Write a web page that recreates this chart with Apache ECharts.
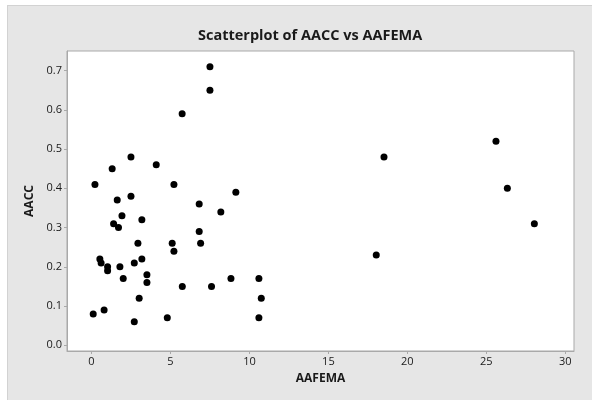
<!DOCTYPE html>
<html>
<head>
<meta charset="utf-8">
<script src="https://cdn.jsdelivr.net/npm/echarts@6/dist/echarts.min.js"></script>
<style>
  html, body { margin: 0; padding: 0; background: #ffffff; }
  #wrap { position: relative; width: 592px; height: 400px; overflow: hidden; }
  #panel { position: absolute; left: 7px; top: 5px; width: 590px; height: 400px;
           background: #e6e6e6; border-top: 1px solid #d2d2d2; border-left: 1px solid #d2d2d2; }
  #chart { position: absolute; left: 0; top: 0; width: 592px; height: 400px; }
</style>
</head>
<body>
<div id="wrap">
  <div id="panel"></div>
  <div id="chart"></div>
</div>
<script>
// AAFEMA (x) and AACC (y) observations
const aafema = [0.22, 0.11, 0.53, 0.61, 0.80, 1.02, 1.02, 1.31, 1.40, 1.63,
                1.71, 1.80, 1.93, 2.01, 2.50, 2.50, 2.71, 2.71, 2.94, 3.02,
                3.19, 3.19, 3.51, 3.51, 4.10, 4.80, 5.11, 5.22, 5.22, 5.74,
                5.75, 6.82, 6.82, 6.91, 7.50, 7.50, 7.60, 8.19, 8.83, 9.14,
                10.60, 10.75, 10.60, 18.03, 18.52, 25.61, 26.33, 28.04];
const aacc   = [0.41, 0.08, 0.22, 0.21, 0.09, 0.20, 0.19, 0.45, 0.31, 0.37,
                0.30, 0.20, 0.33, 0.17, 0.48, 0.38, 0.21, 0.06, 0.26, 0.12,
                0.32, 0.22, 0.18, 0.16, 0.46, 0.07, 0.26, 0.24, 0.41, 0.59,
                0.15, 0.36, 0.29, 0.26, 0.71, 0.65, 0.15, 0.34, 0.17, 0.39,
                0.17, 0.12, 0.07, 0.23, 0.48, 0.52, 0.40, 0.31];

// Tick positions
const xTicks = [0, 5, 10, 15, 20, 25, 30];
const yTicks = [0.0, 0.1, 0.2, 0.3, 0.4, 0.5, 0.6, 0.7];

const points = aafema.map((x, i) => [x, aacc[i]]);

const FONT = '"Open Sans", "Noto Sans", sans-serif';
const axisGray = '#a9a9a9';

const chart = echarts.init(document.getElementById('chart'), null, { renderer: 'canvas' });
chart.setOption({
  backgroundColor: 'transparent',
  animation: false,
  title: {
    text: 'Scatterplot of AACC vs AAFEMA',
    left: 193,
    top: 23,
    textStyle: { fontFamily: FONT, fontSize: 14.5, fontWeight: 'bold', color: '#1a1a1a' }
  },
  grid: {
    left: 67, top: 51, right: 18, bottom: 49,
    show: true, backgroundColor: '#ffffff', borderColor: axisGray, borderWidth: 1
  },
  xAxis: {
    type: 'value',
    min: -1.55, max: 30.55,
    name: 'AAFEMA',
    nameLocation: 'middle',
    nameGap: 22,
    nameTextStyle: { fontFamily: FONT, fontSize: 12, fontWeight: 'bold', color: '#1a1a1a' },
    splitLine: { show: false },
    axisLine: { onZero: false, lineStyle: { color: axisGray } },
    axisTick: { show: true, length: 3, customValues: xTicks, lineStyle: { color: axisGray } },
    axisLabel: { customValues: xTicks, fontFamily: FONT, fontSize: 11, color: '#1a1a1a', margin: 5 }
  },
  yAxis: {
    type: 'value',
    min: -0.0145, max: 0.750,
    name: 'AACC',
    nameLocation: 'middle',
    nameGap: 29,
    nameRotate: 90,
    nameTextStyle: { fontFamily: FONT, fontSize: 12, fontWeight: 'bold', color: '#1a1a1a' },
    splitLine: { show: false },
    axisLine: { show: true, onZero: false, lineStyle: { color: axisGray } },
    axisTick: { show: true, length: 3, customValues: yTicks, lineStyle: { color: axisGray } },
    axisLabel: { customValues: yTicks, fontFamily: FONT, fontSize: 11, color: '#1a1a1a', margin: 5,
                 formatter: v => v.toFixed(1) }
  },
  series: [{
    type: 'scatter',
    data: points,
    symbol: 'circle',
    symbolSize: 7,
    itemStyle: { color: '#000000', opacity: 1 }
  }]
});
</script>
</body>
</html>
